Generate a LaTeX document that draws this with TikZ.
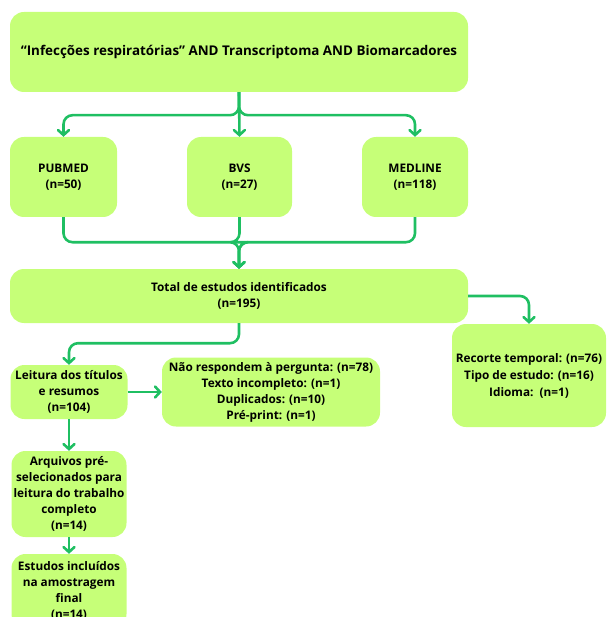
\documentclass[tikz,border=0pt]{standalone}
\usepackage{fontspec}
\setmainfont{Open Sans}
\usetikzlibrary{arrows.meta}
\definecolor{boxgreen}{HTML}{C6FF78}
\definecolor{linegreen}{HTML}{1FBF62}
\begin{document}
\begin{tikzpicture}[x=1pt, y=1pt,
    box/.style={fill=boxgreen, rounded corners=14pt, align=center,
      inner sep=2pt, font=\bfseries\fontsize{11.8}{16}\selectfont},
    flow/.style={draw=linegreen, line width=2.6pt, rounded corners=9pt,
      -{Straight Barb[length=5pt,width=11pt,line cap=round]}}]
  \clip (0,0) rectangle (606,-617);

  % search string and databases
  \node[box, minimum width=458pt, minimum height=80pt,
    font=\bfseries\fontsize{13.4}{16}\selectfont] (search) at (239,-52)
    {“Infecções respiratórias” AND Transcriptoma AND Biomarcadores};
  \node[box, minimum width=107pt, minimum height=80pt] (pubmed) at (63.5,-177)
    {PUBMED\\(n=50)};
  \node[box, minimum width=105pt, minimum height=80pt] (bvs) at (239.5,-177)
    {BVS\\(n=27)};
  \node[box, minimum width=106pt, minimum height=80pt] (medline) at (415,-177)
    {MEDLINE\\(n=118)};

  % identified and excluded
  \node[box, minimum width=458pt, minimum height=54pt] (total) at (239,-296)
    {Total de estudos identificados\\(n=195)};
  \node[box, minimum width=154pt, minimum height=103pt] (recorte) at (529,-375.5)
    {Recorte temporal: (n=76)\\[1pt]Tipo de estudo: (n=16)\\[1pt]Idioma:~~(n=1)};

  % screening
  \node[box, minimum width=117pt, minimum height=54pt] (leitura) at (69,-392)
    {Leitura dos títulos\\e resumos\\(n=104)};
  \node[box, minimum width=218pt, minimum height=69pt] (naoresp) at (271,-392)
    {Não respondem à pergunta: (n=78)\\Texto incompleto: (n=1)\\Duplicados: (n=10)\\Pré-print: (n=1)};
  \node[box, minimum width=115pt, minimum height=86pt] (arquivos) at (69,-494)
    {Arquivos pré-\\selecionados para\\leitura do trabalho\\completo\\(n=14)};
  \node[box, minimum width=115pt, minimum height=74pt] (incluidos) at (69,-591)
    {Estudos incluídos\\na amostragem\\final\\(n=14)};

  % connectors
  \foreach \db in {pubmed, medline}
    \draw[flow] (search.south) -- ++(0,-23) -| (\db.north);
  \draw[flow] (search.south) -- (bvs.north);
  \foreach \db in {pubmed, bvs, medline}
    \draw[flow] (\db.south) -- ++(0,-25) -| (total.north);
  \draw[flow] (total.east) -| (recorte.north);
  \draw[flow] (total.south) -- ++(0,-20) -| (leitura.north);
  \draw[flow] (leitura.east) -- (naoresp.west);
  \draw[flow] (leitura.south) -- (arquivos.north);
  \draw[flow] (arquivos.south) -- (incluidos.north);
\end{tikzpicture}
\end{document}
